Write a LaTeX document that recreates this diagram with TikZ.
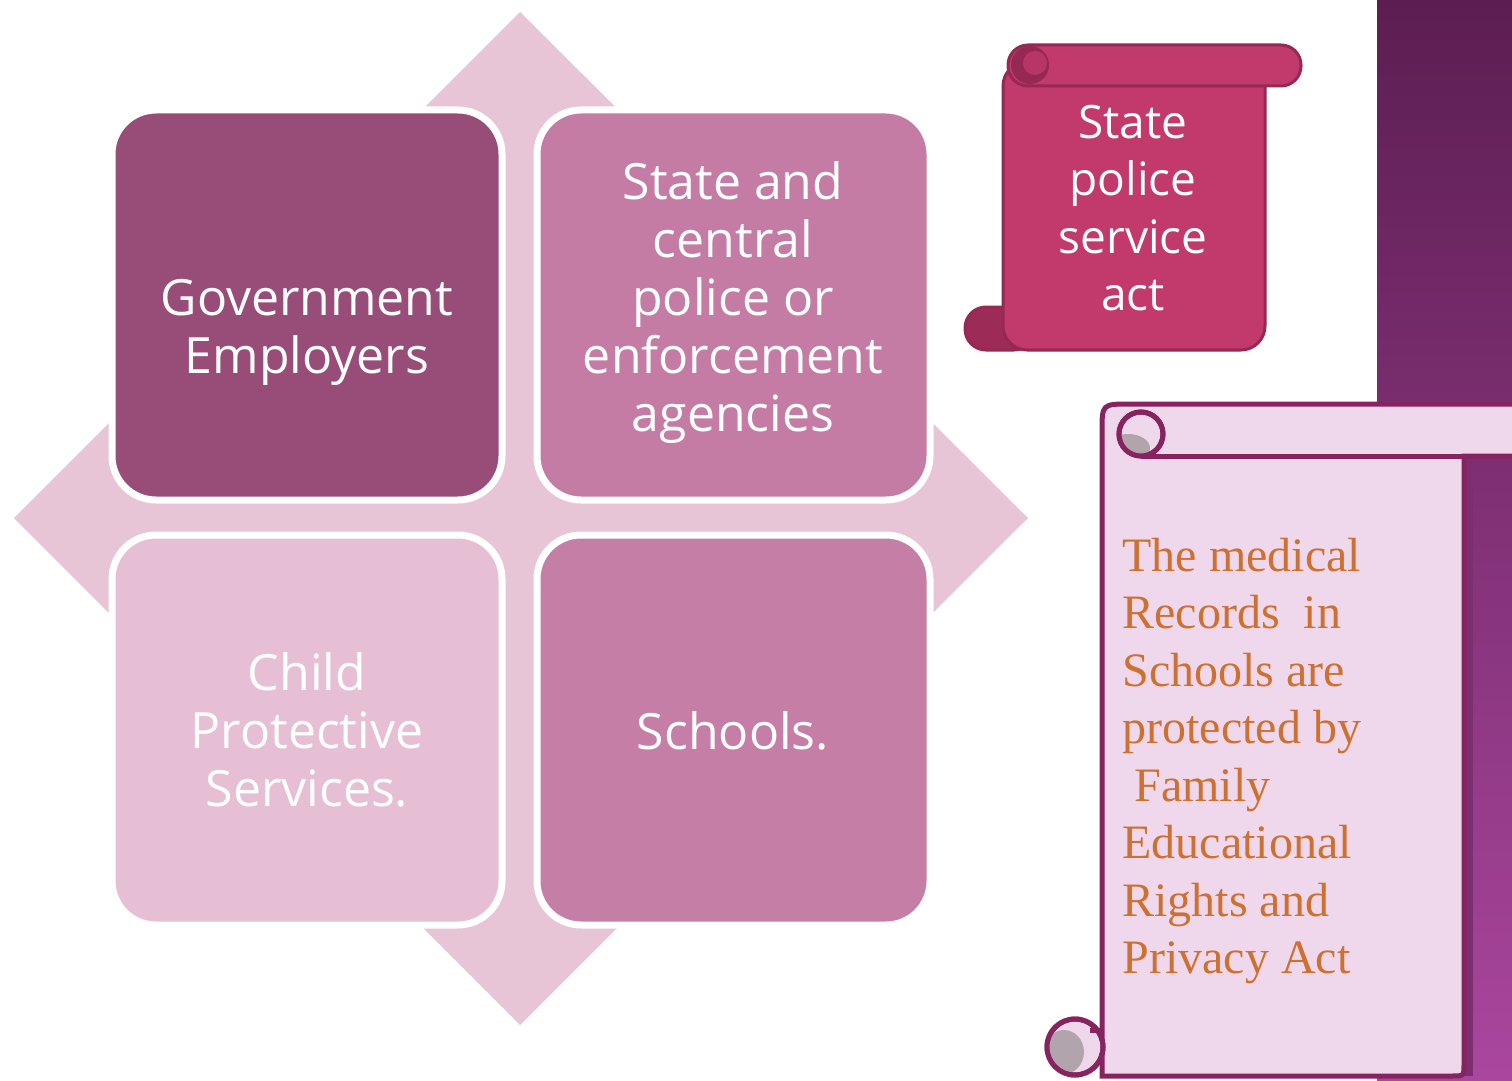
\documentclass[tikz,border=0pt]{standalone}
\usepackage{fontspec}
\newfontfamily\boxfont{Open Sans}
\newfontfamily\notefont{Liberation Serif}
\definecolor{diamondpink}{RGB}{231,196,214}
\definecolor{tilea}{RGB}{152,76,120}
\definecolor{tileb}{RGB}{196,124,165}
\definecolor{tilec}{RGB}{231,191,212}
\definecolor{tiled}{RGB}{197,126,166}
\definecolor{bandtop}{RGB}{92,30,82}
\definecolor{bandbot}{RGB}{170,70,158}
\definecolor{scrollred}{RGB}{193,58,107}
\definecolor{scrolldark}{RGB}{150,40,84}
\definecolor{paper}{RGB}{240,216,236}
\definecolor{paperedge}{RGB}{135,36,96}
\definecolor{curlgray}{RGB}{178,164,172}
\definecolor{notetext}{RGB}{205,112,48}
\tikzset{
  tile/.style={draw=white, line width=3.5pt, rounded corners=22pt},
  tiletext/.style={text=white, align=center, font=\boxfont\fontsize{25}{29}\selectfont},
  redroll/.style={fill=scrollred, draw=scrolldark, line width=1.5pt},
  paperpart/.style={fill=paper, draw=paperedge, line width=2.5pt},
}
\begin{document}
\begin{tikzpicture}[x=0.5pt,y=-0.5pt]
\useasboundingbox (0,0) rectangle (1512,1081);
\fill[white] (0,0) rectangle (1512,1081);

% purple band on the right
\shade[top color=bandtop, bottom color=bandbot] (1377,0) rectangle (1512,1081);

% central diamond behind the tiles
\fill[diamondpink] (520,12) -- (1028,518) -- (520,1025) -- (14,518) -- cycle;

% four tiles
\draw[tile, fill=tilea] (112,110) rectangle (502,500);
\draw[tile, fill=tileb] (537,110) rectangle (930,500);
\draw[tile, fill=tilec] (112,535) rectangle (502,925);
\draw[tile, fill=tiled] (537,535) rectangle (930,925);

\node[tiletext] (gov) at (307,332) {Government\\Employers};
\node[tiletext] (police) at (733,303) {State and\\central\\police or\\enforcement\\agencies};
\node[tiletext] (child) at (307,730) {Child\\Protective\\Services.};
\node[tiletext] (schools) at (733,731) {Schools.};

% red scroll: lower curl, sheet, upper roll
\draw[redroll, fill=scrolldark!85!scrollred, rounded corners=10.5pt] (965,307) rectangle (1035,350);
\draw[redroll, rounded corners=12pt] (1003,62) rectangle (1265,350);
\draw[redroll, rounded corners=10pt] (1008,45) rectangle (1301,86);
\fill[scrolldark] (1030,65) circle (9.5pt);
\fill[scrollred!80!scrolldark] (1035,63) circle (6pt);
\node[tiletext, font=\boxfont\fontsize{23}{28.75}\selectfont] (act) at (1133,208) {State\\police\\service\\act};

% paper scroll: shadow, sheet with its roll, curls
\fill[bandtop!60!bandbot] (1464,456) rectangle (1473,1076);
\draw[paperpart] (1102,1076) -- (1102,432) .. controls (1102,404) .. (1130,404)
  -- (1545,404) -- (1545,456) -- (1464,456) -- (1464,1064)
  .. controls (1464,1076) .. (1452,1076) -- cycle;
\draw[paperedge, line width=2.5pt] (1141,456) -- (1464,456);
\draw[paperpart] (1141,434) circle (11pt);
\begin{scope}
  \clip (1141,434) circle (11pt);
  \fill[curlgray] (1128,448) ellipse (11pt and 7pt);
\end{scope}
\draw[paperedge, line width=2.5pt] (1141,434) circle (11pt);
\draw[paperpart] (1075,1047) circle (14pt);
\begin{scope}
  \clip (1075,1047) circle (14pt);
  \fill[curlgray] (1064,1052) ellipse (10pt and 11pt);
\end{scope}
\draw[paperedge, line width=2.5pt] (1075,1047) circle (14pt);
\draw[paperedge, line width=2.5pt] (1090,1030) -- (1102,1030);

\node[anchor=west, inner sep=0pt, align=left, text=notetext,
      font=\notefont\fontsize{24}{28.75}\selectfont] (note) at (1122,761)
  {The medical\\Records\ \ in\\Schools are\\protected by\\\hspace*{0.25em}Family\\Educational\\Rights and\\Privacy Act};
\end{tikzpicture}
\end{document}
